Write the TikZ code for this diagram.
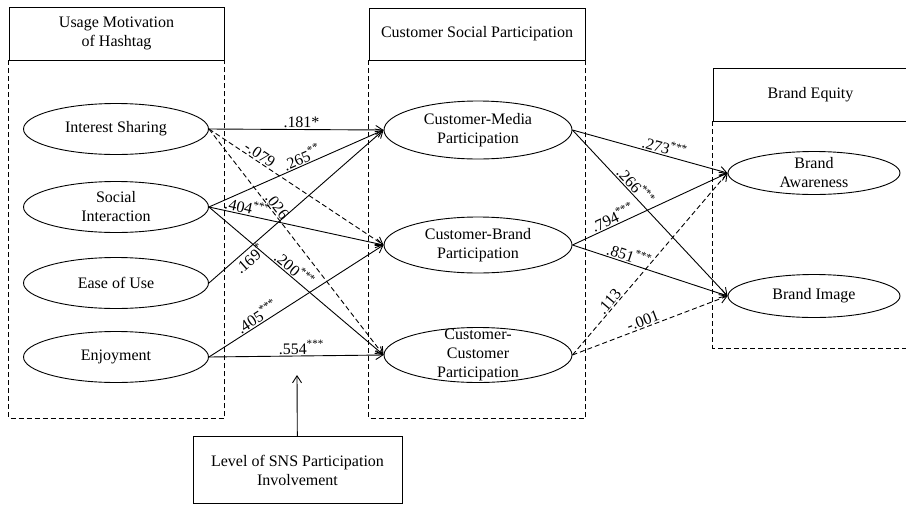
\documentclass[tikz,border=0pt]{standalone}
\usepackage{fontspec}
\setmainfont{Liberation Serif}
\usetikzlibrary{arrows.meta,shapes.geometric}
\tikzset{
    construct/.style = {draw, ellipse, inner sep=0pt,
        minimum width=185pt, minimum height=51pt,
        label={[align=center]center:#1}},
    group/.style = {draw, rectangle, align=center, inner sep=0pt},
    frame/.style = {draw, dash pattern=on 5pt off 3pt},
    link/.style = {draw, ->},
    nslink/.style = {draw, ->, dash pattern=on 5pt off 3pt},
    coef/.style = {sloped, above, inner sep=1pt}
}

\begin{document}
\begin{tikzpicture}[x=1pt, y=-1pt, line width=0.9pt,
        >={Straight Barb[length=7pt,width=9pt]},
        font=\fontsize{16}{19}\selectfont]
        \useasboundingbox (0,0) rectangle (906,504);
        % groups
        \node [group, minimum width=215pt, minimum height=53pt] (usage) at (116.5,33.5) {Usage Motivation\\of Hashtag};
        \node [group, minimum width=216pt, minimum height=52pt] (social) at (477,34) {Customer Social Participation};
        \node [group, minimum width=195pt, minimum height=53pt] (equity) at (810.5,94.5) {Brand Equity};
        \node [group, minimum width=209pt, minimum height=67pt] (level) at (297.5,470) {Level of SNS Participation\\Involvement};
        \draw [frame] (usage.south west) -- ++(0,358) -| (usage.south east);
        \draw [frame] (social.south west) -- ++(0,358) -| (social.south east);
        \draw [frame] (equity.south west) |- (910,348);
        % constructs
        \node [construct={Interest Sharing}] (share) at (116,129) {};
        \node [construct={Social\\Interaction}, below of=share, node distance=78pt] (interact) {};
        \node [construct={Ease of Use}, below of=interact, node distance=76pt] (ease) {};
        \node [construct={Enjoyment}, below of=ease, node distance=74pt] (enjoy) {};
        \node [construct={Customer-Media\\Participation}, minimum width=188pt, minimum height=58pt] (media) at (478,130) {};
        \node [construct={Customer-Brand\\Participation}, minimum width=188pt, minimum height=56pt, below of=media, node distance=115pt] (brand) {};
        \node [construct={Customer-\\Customer\\Participation}, minimum width=188pt, minimum height=55pt, below of=brand, node distance=110pt] (customer) {};
        \node [construct={Brand\\Awareness}, minimum width=172pt, minimum height=43pt] (aware) at (814,173) {};
        \node [construct={Brand Image}, minimum width=172pt, minimum height=43pt, below of=aware, node distance=123pt] (image) {};
        \coordinate (moderate) at (297,375);
        % paths
        \draw [link] (share.east) -- node [coef, pos=0.53] {.181*} (media.west);
        \draw [nslink] (share.east) -- node [coef, pos=0.27] {-.079} (brand.west);
        \draw [nslink] (share.east) -- node [coef, pos=0.36] {.026} (customer.west);
        \draw [link] (interact.east) -- node [coef, pos=0.55] {.265\textsuperscript{**}} (media.west);
        \draw [link] (interact.east) -- node [coef, pos=0.21] {.404\textsuperscript{***}} (brand.west);
        \draw [link] (interact.east) -- node [coef, pos=0.46] {.200\textsuperscript{***}} (customer.west);
        \draw [link] (ease.east) -- node [coef, below, pos=0.2] {.169\textsuperscript{*}} (media.west);
        \draw [link] (enjoy.east) -- node [coef, pos=0.3] {.405\textsuperscript{***}} (brand.west);
        \draw [link] (enjoy.east) -- node [coef, pos=0.53] {.554\textsuperscript{***}} (customer.west);
        \draw [link] (media.east) -- node [coef, pos=0.58] {.273\textsuperscript{***}} (aware.west);
        \draw [link] (media.east) -- node [coef, pos=0.37] {.266\textsuperscript{***}} (image.west);
        \draw [link] (brand.east) -- node [coef, pos=0.28] {.794\textsuperscript{***}} (aware.west);
        \draw [link] (brand.east) -- node [coef, pos=0.35] {.851\textsuperscript{***}} (image.west);
        \draw [nslink] (customer.east) -- node [coef, pos=0.27] {.113} (aware.west);
        \draw [nslink] (customer.east) -- node [coef, pos=0.47] {-.001} (image.west);
        \draw [link] (level) -- (moderate);
\end{tikzpicture}
\end{document}
